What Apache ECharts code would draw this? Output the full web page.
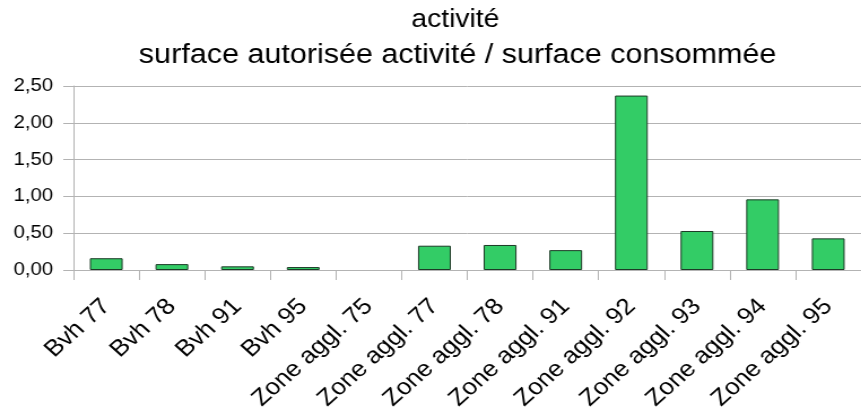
<!DOCTYPE html>
<html>
<head>
<meta charset="utf-8">
<script src="https://cdn.jsdelivr.net/npm/echarts@6/dist/echarts.min.js"></script>
<style>
  html, body { margin: 0; padding: 0; background: #ffffff; overflow: hidden; }
  /* the chart is laid out narrower, then widened to the page width */
  #chart { width: 762px; height: 417px; transform: scaleX(1.13); transform-origin: 0 0; }
</style>
</head>
<body>
<div id="chart"></div>
<script>
// Zones and their ratio of authorised activity surface to consumed surface
var categories = [
  'Bvh 77', 'Bvh 78', 'Bvh 91', 'Bvh 95',
  'Zone aggl. 75', 'Zone aggl. 77', 'Zone aggl. 78', 'Zone aggl. 91',
  'Zone aggl. 92', 'Zone aggl. 93', 'Zone aggl. 94', 'Zone aggl. 95'
];
// no value for Zone aggl. 75
var ratios = [0.16, 0.08, 0.05, 0.04, null, 0.33, 0.34, 0.27, 2.37, 0.53, 0.96, 0.43];

var titleMain = 'activité';
var titleSub = 'surface autorisée activité / surface consommée';

var FONT = '"Liberation Sans", Arial, sans-serif';

function frNumber(v) {
  return v.toFixed(2).replace('.', ',');
}

var chart = echarts.init(document.getElementById('chart'), null, { renderer: 'canvas' });
chart.setOption({
  backgroundColor: '#ffffff',
  animation: false,
  title: [
    {
      text: titleMain,
      left: 398, top: 3, textAlign: 'center',
      textStyle: { fontFamily: FONT, fontSize: 25, fontWeight: 'normal', color: '#000000' }
    },
    {
      text: titleSub,
      left: 400, top: 37, textAlign: 'center',
      textStyle: { fontFamily: FONT, fontSize: 27, fontWeight: 'normal', color: '#000000' }
    }
  ],
  grid: { left: 65, right: -8, top: 86, bottom: 147, containLabel: false },
  xAxis: {
    type: 'category',
    data: categories,
    axisLine: { lineStyle: { color: '#b3b3b3', width: 1 } },
    axisTick: { show: true, length: 10, lineStyle: { color: '#b3b3b3' } },
    axisLabel: {
      interval: 0, rotate: 45, margin: 33,
      fontFamily: FONT, fontSize: 23, color: '#000000'
    },
    splitLine: { show: false }
  },
  yAxis: {
    type: 'value',
    min: 0, max: 2.5, interval: 0.5,
    axisLine: { show: true, lineStyle: { color: '#b3b3b3', width: 1 } },
    axisTick: { show: true, length: 9, lineStyle: { color: '#b3b3b3' } },
    axisLabel: {
      margin: 18, fontFamily: FONT, fontSize: 18, color: '#000000',
      formatter: frNumber
    },
    splitLine: { show: true, lineStyle: { color: '#b3b3b3', width: 1 } }
  },
  series: [{
    type: 'bar',
    data: ratios,
    barWidth: '50%',
    itemStyle: { color: '#33cc66', borderColor: '#1c3a26', borderWidth: 1 }
  }]
});
</script>
</body>
</html>
